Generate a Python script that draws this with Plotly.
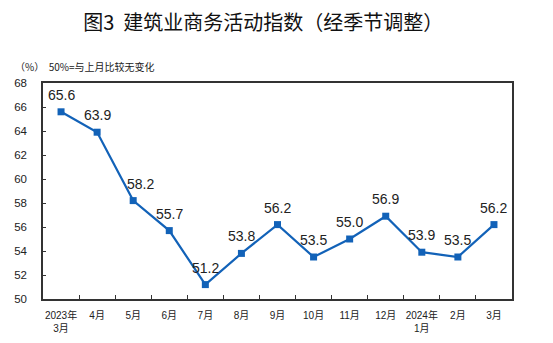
import plotly.graph_objects as go

# Construction business activity index, seasonally adjusted
months = ["2023年<br>3月", "4月", "5月", "6月", "7月", "8月", "9月",
          "10月", "11月", "12月", "2024年<br>1月", "2月", "3月"]
index_values = [65.6, 63.9, 58.2, 55.7, 51.2, 53.8, 56.2,
                53.5, 55.0, 56.9, 53.9, 53.5, 56.2]
y_ticks = [50, 52, 54, 56, 58, 60, 62, 64, 66, 68]

LINE_BLUE = "#1262b8"
TEXT = "#222222"
AXIS = "#333333"
LATIN = "Liberation Sans, Arial, Noto Sans CJK SC"
CJK = "Noto Sans CJK SC, SimHei, sans-serif"

fig = go.Figure()
fig.add_trace(go.Scatter(
    x=months,
    y=index_values,
    mode="lines+markers",
    line=dict(color=LINE_BLUE, width=2.2),
    marker=dict(symbol="square", size=7, color=LINE_BLUE),
    cliponaxis=False,
    hoverinfo="skip",
))

# Value labels sitting above each point
value_labels = [
    dict(
        x=m, y=v, text=f"{v:.1f}",
        xref="x", yref="y",
        showarrow=False,
        yshift=17, xshift=(7 if i == 2 else 0),
        font=dict(family=LATIN, size=14, color=TEXT),
    )
    for i, (m, v) in enumerate(zip(months, index_values))
]

fig.update_layout(
    width=553,
    height=343,
    margin=dict(l=43, r=41, t=83, b=44, autoexpand=False),
    paper_bgcolor="white",
    plot_bgcolor="white",
    showlegend=False,
    title=dict(
        text="图3  建筑业商务活动指数（经季节调整）",
        x=0.476, xanchor="center",
        y=1 - 23 / 343, yanchor="middle",
        font=dict(family=CJK, size=20, color="#111111", weight="normal"),
    ),
    annotations=[
        dict(
            text="（%）  50%=与上月比较无变化",
            xref="paper", yref="paper",
            x=(13 - 43) / 469, y=(299 - 67) / 216,
            xanchor="left", yanchor="middle",
            showarrow=False,
            font=dict(family=CJK, size=10, color=TEXT),
        )
    ] + value_labels,
)

fig.update_xaxes(
    type="category",
    range=[-0.5, len(months) - 0.5],
    tickson="boundaries",
    ticks="inside",
    ticklen=4,
    tickcolor=AXIS,
    tickangle=0,
    automargin=False,
    showline=True,
    linecolor=AXIS,
    linewidth=1.5,
    mirror=True,
    showgrid=False,
    tickfont=dict(family=LATIN, size=10, color=TEXT),
    ticklabelstandoff=6,
)

fig.update_yaxes(
    range=[50, 68],
    tickvals=y_ticks,
    ticks="inside",
    ticklen=3,
    tickcolor=AXIS,
    automargin=False,
    showline=True,
    linecolor=AXIS,
    linewidth=1.5,
    mirror=True,
    showgrid=False,
    zeroline=False,
    tickfont=dict(family=LATIN, size=11.5, color=TEXT),
    ticklabelstandoff=12,
)

fig.write_html("out.html")
